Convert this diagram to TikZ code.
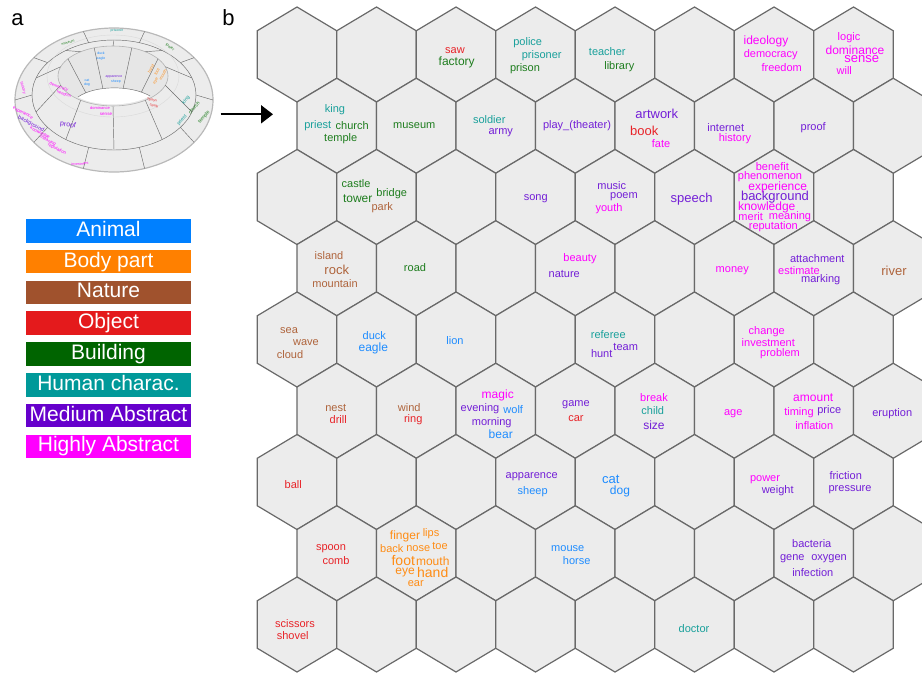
\documentclass[tikz,border=0pt]{standalone}
\usepackage{fontspec}
\setmainfont{Liberation Sans}
\usetikzlibrary{arrows.meta,positioning,calc}
\definecolor{hexfill}{RGB}{236,236,236}
\definecolor{hexline}{RGB}{105,105,105}
\definecolor{innerwall}{RGB}{230,230,230}
\definecolor{animal}{RGB}{0,128,255}
\definecolor{bodypart}{RGB}{255,128,0}
\definecolor{nature}{RGB}{160,82,45}
\definecolor{object}{RGB}{228,26,28}
\definecolor{building}{RGB}{0,100,0}
\definecolor{human}{RGB}{0,153,153}
\definecolor{medium}{RGB}{102,0,204}
\definecolor{highly}{RGB}{255,0,255}
% word colours (as they show on the grey cells)
\definecolor{wan}{RGB}{30,140,255}
\definecolor{wbo}{RGB}{255,140,20}
\definecolor{wna}{RGB}{175,100,60}
\definecolor{wob}{RGB}{232,35,40}
\definecolor{wbu}{RGB}{30,125,30}
\definecolor{whu}{RGB}{25,160,155}
\definecolor{wme}{RGB}{115,30,215}
\definecolor{whi}{RGB}{255,0,255}
\tikzset{
  >={Triangle[length=12pt,width=18pt]},
  hexcell/.style={fill=hexfill,draw=hexline,line width=1.2pt},
  word/.style={inner sep=0pt,anchor=center},
  legend/.style={rectangle,inner sep=0pt,minimum width=165pt,minimum height=23.7pt,text=white,font=\fontsize{21}{21}\selectfont,text height=15pt,text depth=4pt},
  panel/.style={inner sep=0pt,font=\fontsize{22}{22}\selectfont},
  torus/.style={fill=hexfill,draw=gray!70,line width=0.6pt},
  torusline/.style={draw=gray!85!black,line width=0.45pt},
  tword/.style={inner sep=0pt,font=\fontsize{4}{4}\selectfont}
}

\begin{document}
\begin{tikzpicture}[x=1pt,y=-1pt,node distance=6.7pt]
  \useasboundingbox (0,0) rectangle (922,675);

  % Panel labels
  \node[panel] (lab-a) at (17.5,20) {a};
  \node[panel] (lab-b) at (228.5,18) {b};

  % Torus (panel a)
  \coordinate (tor-c) at (114,100);
  \coordinate (tor-m) at (114,95);
  \coordinate (tor-o) at (113,76);
  \draw[torus,draw=gray!55,line width=1.2pt] (tor-c) ellipse [x radius=99, y radius=72];
  \draw[torusline] (tor-m) ellipse [x radius=82, y radius=55];
  \draw[torus,fill=innerwall,draw=gray!60] (tor-o) ellipse [x radius=55, y radius=30];
  \draw[gray!30,line width=0.4pt] (tor-o) ellipse [x radius=66, y radius=41];
  \foreach \t in {0,36,...,324}
    \draw[torusline] ($(tor-c)+({99*cos(\t)},{72*sin(\t)})$) -- ($(tor-m)+({82*cos(\t)},{55*sin(\t)})$);
  \foreach \t in {18,54,...,342}
    \draw[torusline] ($(tor-m)+({82*cos(\t)},{55*sin(\t)})$) -- ($(tor-o)+({55*cos(\t)},{30*sin(\t)})$);
  \foreach \t/\hx/\hy in {215/86/93,250/103/89,290/123/89,325/141/93}
    \draw[torusline] ($(tor-o)+({55*cos(\t)},{30*sin(\t)})$) -- (\hx,\hy);
  \fill[white] (78,97) .. controls (95,85) and (131,85) .. (150,96) .. controls (131,107) and (95,107) .. cycle;
  \draw[torusline] (78,97) .. controls (95,85) and (131,85) .. (150,96);

  % Words on the torus
  \node[tword,text=wme,font=\fontsize{7}{7}\selectfont,rotate=-8] (t-proof) at (68,125) {proof};
  \node[tword,text=whu,font=\fontsize{5}{5}\selectfont,rotate=50] (t-king) at (186,100) {king};
  \node[tword,text=whu,font=\fontsize{5}{5}\selectfont,rotate=50] (t-priest) at (182,120) {priest};
  \node[tword,text=wbu,font=\fontsize{5}{5}\selectfont,rotate=50] (t-church) at (194,108) {church};
  \node[tword,text=wbu,font=\fontsize{5}{5}\selectfont,rotate=50] (t-temple) at (204,117) {temple};
  \node[tword,text=whi,font=\fontsize{4.5}{4.5}\selectfont,rotate=-28] (t-experience) at (23,113) {experience};
  \node[tword,text=wme,font=\fontsize{5.5}{5.5}\selectfont,rotate=-28] (t-background) at (31,124) {background};
  \node[tword,text=whi,font=\fontsize{4.5}{4.5}\selectfont,rotate=-28] (t-knowledge) at (40,133) {knowledge};
  \node[tword,text=whi,font=\fontsize{4.5}{4.5}\selectfont,rotate=-28] (t-meaning) at (48,141) {meaning};
  \node[tword,text=whi,font=\fontsize{4.5}{4.5}\selectfont,rotate=-28] (t-reputation) at (57,149) {reputation};
  \node[tword,text=whi,rotate=-72] (t-history) at (23,88) {history};
  \node[tword,text=whi,rotate=-20] (t-democracy) at (59,87) {democracy};
  \node[tword,text=whi,rotate=-20] (t-freedom) at (64,94) {freedom};
  \node[tword,text=whi] (t-dominance) at (100,108) {dominance};
  \node[tword,text=whi,font=\fontsize{4.5}{4.5}\selectfont] (t-sense) at (106,114) {sense};
  \node[tword,text=wan,font=\fontsize{3.5}{3.5}\selectfont] (t-duck) at (101,53) {duck};
  \node[tword,text=wan,font=\fontsize{3.5}{3.5}\selectfont] (t-eagle) at (101,58.5) {eagle};
  \node[tword,text=wan,font=\fontsize{3.5}{3.5}\selectfont] (t-cat) at (87,80) {cat};
  \node[tword,text=wan,font=\fontsize{3.5}{3.5}\selectfont] (t-dog) at (87,85) {dog};
  \node[tword,text=wme,font=\fontsize{3.5}{3.5}\selectfont] (t-apparence) at (114,76.5) {apparence};
  \node[tword,text=wan,font=\fontsize{3.5}{3.5}\selectfont] (t-sheep) at (116,81.5) {sheep};
  \node[tword,text=wbo,rotate=60] (t-hand) at (151,69) {hand};
  \node[tword,text=wbo,rotate=60] (t-foot) at (157,72) {foot};
  \node[tword,text=wbo,rotate=60] (t-mouth) at (163,75) {mouth};
  \node[tword,text=wbo,rotate=60] (t-eye) at (156,81) {eye};
  \node[tword,text=wob,font=\fontsize{3.5}{3.5}\selectfont,rotate=-15] (t-spoon) at (152,100.5) {spoon};
  \node[tword,text=wob,font=\fontsize{3.5}{3.5}\selectfont,rotate=-15] (t-comb) at (154,105.5) {comb};
  \node[tword,text=wbu,rotate=-35] (t-tower) at (170,47) {tower};
  \node[tword,text=whu,font=\fontsize{3.5}{3.5}\selectfont] (t-prisoner) at (117,31) {prisoner};
  \node[tword,text=wbu,font=\fontsize{3.5}{3.5}\selectfont,rotate=15] (t-museum) at (68,43) {museum};
  \node[tword,text=whi,font=\fontsize{3.5}{3.5}\selectfont,rotate=5] (t-investment) at (80,164) {investment};

  % Arrow from the torus to the flat map
  \coordinate (arr-s) at (220.5,114.3);
  \coordinate (arr-e) at (273,114.3);
  \draw[->,line width=2pt] (arr-s) -- (arr-e);

  % Legend
  \node[legend,fill=animal] (leg-animal) at (108.5,230.8) {Animal};
  \node[legend,fill=bodypart,below=of leg-animal] (leg-body) {Body part};
  \node[legend,fill=nature,below=of leg-body] (leg-nature) {Nature};
  \node[legend,fill=object,below=of leg-nature] (leg-object) {Object};
  \node[legend,fill=building,below=of leg-object] (leg-building) {Building};
  \node[legend,fill=human,below=of leg-building] (leg-human) {Human charac.};
  \node[legend,fill=medium,below=of leg-human] (leg-medium) {Medium Abstract};
  \node[legend,fill=highly,below=of leg-medium] (leg-highly) {Highly Abstract};

  % Hexagonal map (panel b)
  \foreach \r in {0,...,8} {
    \foreach \c in {0,...,7} {
      \pgfmathsetmacro\hx{297+79.5*\c+39.75*mod(\r,2)}
      \pgfmathsetmacro\hy{54.5+71.25*\r}
      \coordinate (h-\r-\c) at (\hx,\hy);
      \draw[hexcell] (h-\r-\c) +(0,-47.5) -- +(39.75,-23.75) -- +(39.75,23.75) -- +(0,47.5) -- +(-39.75,23.75) -- +(-39.75,-23.75) -- cycle;
    }
  }

  % Words in the cells
  \foreach \w/\cell/\dx/\dy/\col/\s in {
    saw/h-0-2/-1/-3.8/wob/11, factory/h-0-2/0.7/7.8/wbu/12,
    police/h-0-3/-7.8/-11.8/whu/11, prisoner/h-0-3/6.2/1.2/whu/11, prison/h-0-3/-10.5/14.5/wbu/11,
    teacher/h-0-4/-7.7/-2.8/whu/11, library/h-0-4/4.3/12.2/wbu/11,
    ideology/h-0-6/-8/-12.8/whi/12, democracy/h-0-6/-3.3/-0.2/whi/11, freedom/h-0-6/7.7/12.8/whi/11,
    logic/h-0-7/-4.5/-16.8/whi/11, dominance/h-0-7/1.5/-4.5/whi/12, sense/h-0-7/8.2/4.8/whi/13, will/h-0-7/-9.2/16.5/whi/11,
    king/h-1-0/-1.75/-16.4/whu/11, priest/h-1-0/-19/0/whu/11, church/h-1-0/15.5/0/wbu/11, temple/h-1-0/4/12.5/wbu/11,
    museum/h-1-1/-2/0.3/wbu/11,
    soldier/h-1-2/-6.5/-6.5/whu/11, army/h-1-2/5/6.5/wme/11,
    artwork/h-1-4/2/-11.75/wme/13, book/h-1-4/-10.5/5.3/wob/13, fate/h-1-4/6.3/18.3/whi/11,
    internet/h-1-5/-8.5/2/wme/11, history/h-1-5/0.75/12.5/whi/11,
    proof/h-1-6/-0.5/2/wme/11,
    castle/h-2-1/-20.5/-13/wbu/11, tower/h-2-1/-18.8/1.3/wbu/12, bridge/h-2-1/15.2/-3.7/wbu/11, park/h-2-1/5.8/10.7/wna/11,
    song/h-2-3/0.2/2/wme/11,
    music/h-2-4/-3.3/-11.3/wme/11, poem/h-2-4/9/-0.3/wme/11, youth/h-2-4/-6/12/whi/11,
    speech/h-2-5/-2.8/2/wme/13,
    benefit/h-2-6/-1.7/-30.3/whi/11, phenomenon/h-2-6/-4/-20.3/whi/11, experience/h-2-6/3.7/-9.7/whi/12,
    background/h-2-6/1/0.3/wme/13, knowledge/h-2-6/-7.3/10.3/whi/12, merit/h-2-6/-23.3/19.7/whi/11,
    meaning/h-2-6/16/19.7/whi/11, reputation/h-2-6/-0.7/29.7/whi/11,
    island/h-3-0/-7.75/-12.25/wna/11, rock/h-3-0/0/1.75/wna/13, mountain/h-3-0/-1.75/15.75/wna/11,
    road/h-3-1/-1.25/-0.5/wbu/11,
    beauty/h-3-3/4.75/-9.25/whi/11, nature/h-3-3/-11/5.75/wme/11,
    money/h-3-5/-2/2.75/whi/11,
    attachment/h-3-6/3.5/-9.25/wme/11, estimate/h-3-6/-14.75/2.5/whi/11, marking/h-3-6/7/11.75/wme/11,
    river/h-3-7/0.75/2.75/wna/13,
    sea/h-4-0/-8/-8.8/wna/11, wave/h-4-0/9/3.2/wna/11, cloud/h-4-0/-7/14.8/wna/11,
    duck/h-4-1/-2.2/-3.8/wan/11, eagle/h-4-1/-3.2/8.8/wan/12,
    lion/h-4-2/-1/1.2/wan/11,
    referee/h-4-4/-6.7/-4.5/whu/11, team/h-4-4/10.7/7.2/wme/11, hunt/h-4-4/-13.3/13.8/wme/11,
    change/h-4-6/-7.3/-7.8/whi/11, investment/h-4-6/-5.7/3.2/whi/11, problem/h-4-6/6/13.8/whi/11,
    nest/h-5-0/-1/-3/wna/11, drill/h-5-0/1.5/9.25/wob/11,
    wind/h-5-1/-7/-3/wna/11, ring/h-5-1/-3/8.5/wob/11,
    magic/h-5-2/2/-15/whi/12, evening/h-5-2/-15.75/-1.75/wme/11, wolf/h-5-2/17.5/-1.5/wan/11,
    morning/h-5-2/-4/12/wme/11, bear/h-5-2/5/23.5/wan/12,
    game/h-5-3/0.75/-5.75/wme/11, car/h-5-3/0.75/8.25/wob/11,
    break/h-5-4/-0.75/-13/whi/11, child/h-5-4/-2/0.25/whu/11, size/h-5-4/-0.75/14.5/wme/12,
    age/h-5-5/-1/3.25/whi/11,
    amount/h-5-6/-0.5/-13.5/whi/12, timing/h-5-6/-14.75/1.5/whi/11, price/h-5-6/15.5/0.25/wme/11, inflation/h-5-6/0.5/15/whi/11,
    eruption/h-5-7/-1/3.25/wme/11,
    ball/h-6-0/-3.7/3/wob/11,
    apparence/h-6-3/-3.8/-5.3/wme/11, sheep/h-6-3/-2.8/9.7/wan/11,
    cat/h-6-4/-4.3/-2.7/wan/13, dog/h-6-4/5/9.7/wan/12,
    power/h-6-6/-9/-2/whi/11, weight/h-6-6/3.7/8.7/wme/11,
    friction/h-6-7/-7.8/-6.3/wme/11, pressure/h-6-7/-3.5/8/wme/11,
    spoon/h-7-0/-5.75/-4.25/wob/11, comb/h-7-0/-0.75/7.5/wob/11,
    finger/h-7-1/-11.25/-17.25/wbo/12, lips/h-7-1/14.75/-19.25/wbo/11, back/h-7-1/-24.5/-4.25/wbo/11,
    nose/h-7-1/2/-4.25/wbo/11, toe/h-7-1/23.75/-7.25/wbo/11, foot/h-7-1/-13/7.5/wbo/14,
    mouth/h-7-1/16.5/7.5/wbo/12, eye/h-7-1/-11.25/19.5/wbo/12, hand/h-7-1/16.5/18.75/wbo/14, ear/h-7-1/-0.5/30.75/wbo/11,
    mouse/h-7-3/-7.5/-4.25/wan/11, horse/h-7-3/1.5/7.5/wan/11,
    bacteria/h-7-6/-2/-10/wme/11, gene/h-7-6/-21.5/5/wme/11, oxygen/h-7-6/15.25/5/wme/11, infection/h-7-6/-1/19/wme/11,
    scissors/h-8-0/-2/-1.2/wob/11, shovel/h-8-0/-4.3/11.2/wob/11,
    doctor/h-8-5/-0.5/4.5/whu/11}
    \node[word,text=\col,font=\fontsize{\s}{\s}\selectfont] (w-\w) at ($(\cell)+(\dx,\dy)$) {\w};
  \node[word,text=wme,font=\fontsize{11}{11}\selectfont] (w-play) at ($(h-1-3)+(1.75,0.25)$) {play\_(theater)};
\end{tikzpicture}
\end{document}
